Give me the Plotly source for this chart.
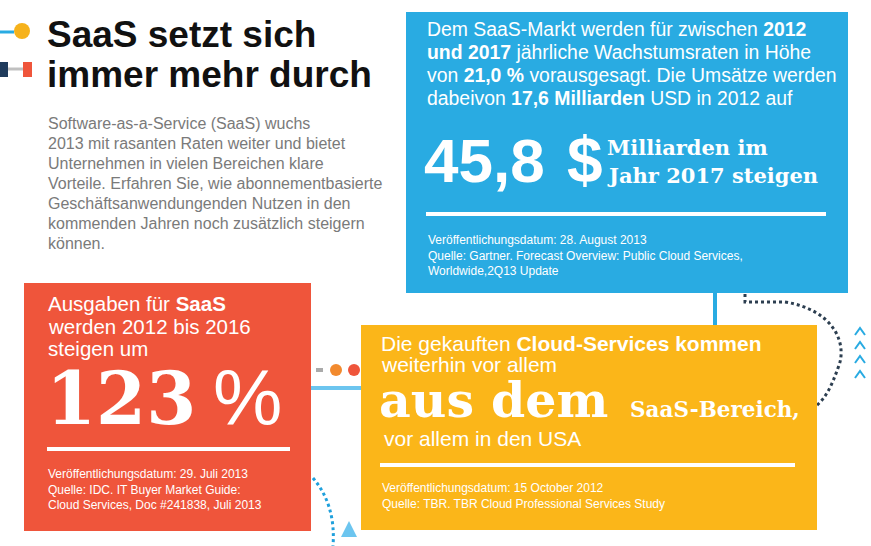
import plotly.graph_objects as go

# ---------------- data ----------------
title_lines = ["SaaS setzt sich", "immer mehr durch"]
intro_lines = [
    "Software-as-a-Service (SaaS) wuchs",
    "2013 mit rasanten Raten weiter und bietet",
    "Unternehmen in vielen Bereichen klare",
    "Vorteile. Erfahren Sie, wie abonnementbasierte",
    "Geschäftsanwendungenden Nutzen in den",
    "kommenden Jahren noch zusätzlich steigern",
    "können.",
]
forecast_years = [2012, 2017]
growth_rate = [21.0]
revenue_bn_usd = [17.6, 45.8]
spend_years = [2012, 2016]
spend_increase_pct = [123]
sources_blue = ["Veröffentlichungsdatum: 28. August 2013",
                "Quelle: Gartner. Forecast Overview: Public Cloud Services,",
                "Worldwide,2Q13 Update"]
sources_red = ["Veröffentlichungsdatum: 29. Juli 2013",
               "Quelle: IDC. IT Buyer Market Guide:",
               "Cloud Services, Doc #241838, Juli 2013"]
sources_yellow = ["Veröffentlichungsdatum: 15 October 2012",
                  "Quelle: TBR. TBR Cloud Professional Services Study"]


def de(v):
    return f"{v:.1f}".replace(".", ",")


BLUE = "#29abe2"
LBLUE = "#6cc5ef"
RED = "#ef553b"
YELLOW = "#fbb619"
NAVY = "#2c3e50"
SANS = "Liberation Sans"
SERIF = "DejaVu Serif"

fig = go.Figure()
shapes = []
ann = []


def rect(x0, y0, x1, y1, color):
    shapes.append(dict(type="rect", x0=x0, y0=y0, x1=x1, y1=y1,
                       fillcolor=color, line=dict(width=0), layer="above"))


def line(x0, y0, x1, y1, color, w):
    shapes.append(dict(type="line", x0=x0, y0=y0, x1=x1, y1=y1,
                       line=dict(color=color, width=w), layer="above"))


def circ(cx, cy, r, color):
    shapes.append(dict(type="circle", x0=cx - r, y0=cy - r, x1=cx + r, y1=cy + r,
                       fillcolor=color, line=dict(width=0), layer="above"))


def path(p, color, w, dash="solid", fill=None):
    d = dict(type="path", path=p, line=dict(color=color, width=w, dash=dash), layer="above")
    if fill:
        d["fillcolor"] = fill
        d["line"]["width"] = 0
    shapes.append(d)


def text(x, y, s, size, color="white", family=SANS, xanchor="left", yanchor="middle"):
    ann.append(dict(x=x, y=y, xref="x", yref="y", text=s, showarrow=False,
                    xanchor=xanchor, yanchor=yanchor,
                    font=dict(family=family, size=size, color=color)))


# ---- top-left decoration ----
line(0, 32, 14, 32, BLUE, 3)
circ(22, 31, 8, "#f6b21b")
rect(0, 62, 8, 77, "#1f3b5c")
line(8, 69, 23, 69, "#c0c0c0", 3)
rect(23, 62, 32, 77, RED)

# ---- title & intro ----
text(45, 34, "<b>" + title_lines[0] + "</b>", 37, "#111111")
text(45, 74, "<b>" + title_lines[1] + "</b>", 37, "#111111")
for i, s in enumerate(intro_lines):
    text(46, 123 + i * 20, s, 16, "#7a7a7a")

# ---- connectors behind boxes ----
line(715, 290, 715, 330, BLUE, 4)
path("M 745,294 L 745,302 L 785,302 C 835,310 848,345 838,368 C 832,385 826,398 816,406",
     NAVY, 3, "dot")
line(316, 370, 323, 370, "#aaaaaa", 4)
circ(336, 370, 6, "#f28a2e")
circ(354, 370, 6, RED)
line(310, 388, 362, 388, LBLUE, 4)
path("M 313,478 Q 336,505 333,546", "#1fa0dc", 3, "dot")
path("M 341,537 L 349,521 L 357,537 Z", LBLUE, 0, fill=LBLUE)
for yc in [331, 345, 359, 374]:
    path(f"M 855,{yc+4} L 860,{yc-3} L 865,{yc+4}", BLUE, 2)

# ---- blue box ----
rect(406, 12, 848, 293, BLUE)
text(425, 29, f"Dem SaaS-Markt werden für zwischen <b>{forecast_years[0]}</b>", 19.4)
text(425, 52, f"<b>und {forecast_years[1]}</b> jährliche Wachstumsraten in Höhe", 19.4)
text(425, 75, f"von <b>{de(growth_rate[0])} %</b> vorausgesagt. Die Umsätze werden", 19.4)
text(425, 98, f"dabeivon <b>{de(revenue_bn_usd[0])} Milliarden</b> USD in {forecast_years[0]} auf", 19.4)
text(422, 160, "<b>" + de(revenue_bn_usd[1]) + "</b>", 62)
text(585, 160, "<b>$</b>", 64, xanchor="center")
text(605, 147, "<b>Milliarden im</b>", 21, family=SERIF)
text(605, 175, f"<b>Jahr {forecast_years[1]} steigen</b>", 21, family=SERIF)
line(426, 214, 826, 214, "white", 4)
for i, s in enumerate(sources_blue):
    text(426, 240 + i * 15.5, s, 12)

# ---- red box ----
rect(24, 283, 311, 531, RED)
text(46, 303, "Ausgaben für <b>SaaS</b>", 20.5)
text(46, 326, f"werden {spend_years[0]} bis {spend_years[1]}", 20.5)
text(46, 348, "steigen um", 20.5)
text(44, 398, f"<b>{spend_increase_pct[0]}</b>", 72, family=SERIF)
text(247, 398, "%", 78, xanchor="center")
line(47, 449, 290, 449, "white", 4)
for i, s in enumerate(sources_red):
    text(46, 474 + i * 15.5, s, 12)

# ---- yellow box ----
rect(361, 325, 817, 530, YELLOW)
text(379, 343, "Die gekauften <b>Cloud-Services kommen</b>", 21)
text(379, 364, "weiterhin vor allem", 21)
text(377, 400, "<b>aus dem</b>", 49, family=SERIF)
text(628, 409, "<b>SaaS-Bereich,</b>", 21.5, family=SERIF)
text(382, 438, "vor allem in den USA", 21)
line(380, 465, 795, 465, "white", 4)
for i, s in enumerate(sources_yellow):
    text(380, 488 + i * 15.5, s, 12)

fig.update_layout(
    width=871, height=546,
    margin=dict(l=0, r=0, t=0, b=0),
    paper_bgcolor="white", plot_bgcolor="white",
    xaxis=dict(range=[0, 871], visible=False, fixedrange=True),
    yaxis=dict(range=[546, 0], visible=False, fixedrange=True),
    shapes=shapes, annotations=ann, showlegend=False,
)
fig.write_html("out.html", config={"displayModeBar": False},
               post_script="document.body.style.margin='0';document.body.style.overflow='hidden';")
